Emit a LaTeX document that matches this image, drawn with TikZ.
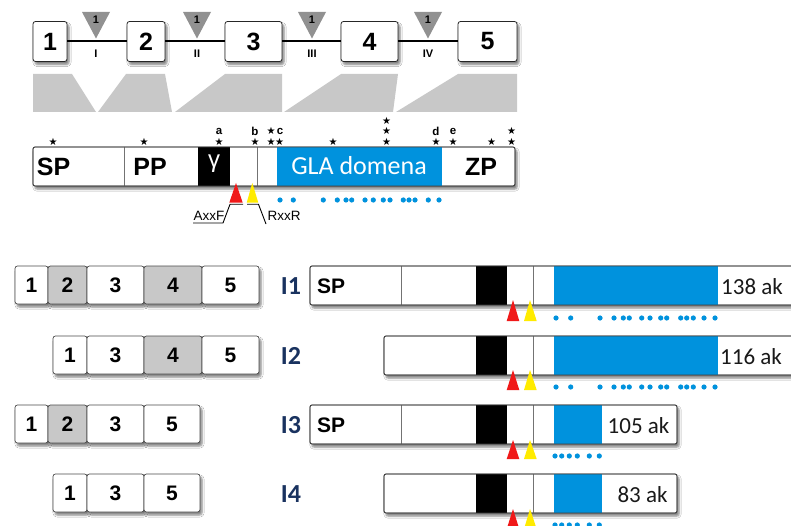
\documentclass[tikz,border=0pt]{standalone}
\usepackage{fontspec}
\setmainfont{Liberation Sans}
\newfontfamily\calfont{Carlito}
\newfontfamily\dejavu{DejaVu Sans}
\usetikzlibrary{shadows.blur}
\definecolor{glablue}{RGB}{0,146,221}
\definecolor{exgray}{RGB}{200,200,200}
\definecolor{trigray}{RGB}{145,145,145}
\definecolor{navy}{RGB}{25,50,95}
\definecolor{tred}{RGB}{240,25,25}
\definecolor{tyel}{RGB}{255,235,0}
\tikzset{
  shad/.style={blur shadow={shadow xshift=2pt, shadow yshift=-3pt, shadow blur steps=5, shadow opacity=50}},
  exbig/.style={draw=black!85, line width=0.8pt, rounded corners=2.5pt, fill=white, minimum height=40pt, inner sep=0pt,
     font=\bfseries\fontsize{25}{25}\selectfont, shad},
  exsmall/.style={draw=black!70, line width=0.7pt, rounded corners=2.5pt, fill=white, minimum height=38pt, inner sep=0pt,
     font=\bfseries\fontsize{21}{21}\selectfont, shad},
  exgr/.style={fill=exgray},
  barbox/.style={draw=black!70, line width=0.7pt, rounded corners=2pt, fill=white, shad},
  barline/.style={draw=black!75, line width=0.8pt, rounded corners=2pt},
  segline/.style={draw=black!55, line width=0.6pt},
  isolab/.style={font=\calfont\bfseries\fontsize{26}{26}\selectfont, text=navy},
  aklab/.style={font=\calfont\fontsize{23}{23}\selectfont, text=black!90},
  sptext/.style={font=\bfseries\fontsize{21}{21}\selectfont},
  bigtext/.style={font=\bfseries\fontsize{25}{25}\selectfont},
  stars/.style={font=\dejavu\fontsize{10}{10}\selectfont, inner sep=0pt},
  lett/.style={font=\bfseries\fontsize{11.5}{11.5}\selectfont, inner sep=0pt},
  roman/.style={font=\bfseries\fontsize{11}{11}\selectfont, inner sep=0pt},
  motif/.style={font=\fontsize{13.5}{13.5}\selectfont, inner sep=0pt},
}
\begin{document}
\begin{tikzpicture}[x=1pt,y=-1pt]
\clip (0,0) rectangle (791,526);
\fill[white] (0,0) rectangle (791,526);

% ---------- top gene structure ----------
\node[exbig, minimum width=34pt] (e1) at (50,41.5) {1};
\node[exbig, minimum width=38pt] (e2) at (146,41.5) {2};
\node[exbig, minimum width=57pt] (e3) at (253.5,41.5) {3};
\node[exbig, minimum width=57pt] (e4) at (369.5,41.5) {4};
\node[exbig, minimum width=59pt] (e5) at (487.5,41.5) {5};
\draw[line width=2pt] (e1) -- (e2);
\draw[line width=2pt] (e2) -- (e3);
\draw[line width=2pt] (e3) -- (e4);
\draw[line width=2pt] (e4) -- (e5);

\foreach \x/\r/\n in {96/I/1, 197/II/2, 312/III/3, 428/IV/4}{
  \fill[trigray] (\x-14,12) -- (\x+14,12) -- (\x,38.5) -- cycle;
  \node[roman] (ph\n) at (\x,20) {1};
  \node[roman] (rn\n) at (\x,53.5) {\r};
}

% trapezoids
\fill[exgray] (33,74) -- (72,74) -- (96,112) -- (33,112) -- cycle;
\fill[exgray] (98,112) -- (126,74) -- (165,74) -- (172,112) -- cycle;
\fill[exgray] (175,112) -- (225,74) -- (282,74) -- (282,112) -- cycle;
\fill[exgray] (284,112) -- (341,74) -- (398,74) -- (393,112) -- cycle;
\fill[exgray] (396,112) -- (458,74) -- (517,74) -- (517,112) -- cycle;

% ---------- top protein bar ----------
\path[barbox] (33,147) rectangle (515,186);
\fill[black] (198,147) rectangle (230,186);
\fill[glablue] (277,147) rectangle (442,186);
\draw[segline] (124,147) -- (124,186);
\draw[segline] (257,147) -- (257,186);
\draw[barline] (33,147) rectangle (515,186);
\node[bigtext] (tsp) at (53.5,167) {SP};
\node[bigtext] (tpp) at (150,167) {PP};
\node[font=\fontsize{24}{24}\selectfont, text=white] (tg) at (214,164) {γ};
\node[font=\calfont\fontsize{26}{26}\selectfont, text=white] (tgla) at (359,166) {GLA domena};
\node[bigtext] (tzp) at (481,167) {ZP};

% stars
\foreach \x/\y in {53/141.7, 144/141.7, 219/141.7, 255/141.7, 271/131, 271/141.7, 279.5/141.7,
  333/141.7, 386.7/121, 386.7/131, 386.7/141.7, 436/141.7, 453/141.7, 491.7/141.7, 511.7/131, 511.7/141.7}{
  \node[stars] at (\x,\y) {★};
}
\node[lett] (la) at (219,131) {a};
\node[lett] (lb) at (255,131) {b};
\node[lett] (lc) at (280,131) {c};
\node[lett] (ld) at (436,131) {d};
\node[lett] (le) at (453,131) {e};

% cleavage triangles + motifs
\fill[tred] (236,183) -- (229.3,202.7) -- (242.7,202.7) -- cycle;
\fill[tyel] (252.3,183) -- (246.7,202.7) -- (258.3,202.7) -- cycle;
\draw[line width=0.9pt] (243,204.3) -- (230,204.3) -- (223,223) -- (193,223);
\draw[line width=0.9pt] (247,204.3) -- (258.5,204.3) -- (266,224);
\node[motif, anchor=base west] (axxf) at (193.5,221) {AxxF};
\node[motif, anchor=base west] (rxxr) at (267.5,221) {RxxR};

\foreach \x in {280, 293.3, 323.3, 337.3, 346, 351.7, 365, 373.3, 383.3, 390, 403.3, 409, 415, 428.3, 439}{
  \fill[glablue] (\x,200) circle (2.6pt);
}

% ---------- isoform exon rows ----------
% I1
\node[exsmall, minimum width=33pt] (a1) at (31.5,285) {1};
\node[exsmall, exgr, minimum width=39pt] (a2) at (67.5,285) {2};
\node[exsmall, minimum width=57pt] (a3) at (115.5,285) {3};
\node[exsmall, exgr, minimum width=58pt] (a4) at (173,285) {4};
\node[exsmall, minimum width=57pt] (a5) at (230.5,285) {5};
% I2
\node[exsmall, minimum width=34pt] (b1) at (70,355) {1};
\node[exsmall, minimum width=57pt] (b3) at (115.5,355) {3};
\node[exsmall, exgr, minimum width=58pt] (b4) at (173,355) {4};
\node[exsmall, minimum width=57pt] (b5) at (230.5,355) {5};
% I3
\node[exsmall, minimum width=33pt] (c1) at (31.5,424) {1};
\node[exsmall, exgr, minimum width=39pt] (c2) at (67.5,424) {2};
\node[exsmall, minimum width=57pt] (c3) at (115.5,424) {3};
\node[exsmall, minimum width=56pt] (c5) at (172,424) {5};
% I4
\node[exsmall, minimum width=34pt] (d1) at (70,493) {1};
\node[exsmall, minimum width=57pt] (d3) at (115.5,493) {3};
\node[exsmall, minimum width=56pt] (d5) at (172,493) {5};

\node[isolab] (i1) at (291,286) {I1};
\node[isolab] (i2) at (291,356) {I2};
\node[isolab] (i3) at (291,425) {I3};
\node[isolab] (i4) at (291,494) {I4};

% ---------- isoform protein bars ----------
% I1
\path[barbox] (310,266) rectangle (805,305);
\fill[black] (476,266) rectangle (507,305);
\fill[glablue] (554,266) rectangle (718,305);
\draw[segline] (401,266) -- (401,305);
\draw[segline] (533,266) -- (533,305);
\draw[barline] (310,266) rectangle (805,305);
\node[sptext, anchor=west, inner sep=0pt] (p1sp) at (317,286) {SP};
\node[aklab, anchor=west, inner sep=0pt] (p1ak) at (721,287) {138 ak};
% I2
\path[barbox] (384,336) rectangle (805,375);
\fill[black] (476,336) rectangle (507,375);
\fill[glablue] (554,336) rectangle (718,375);
\draw[segline] (533,336) -- (533,375);
\draw[barline] (384,336) rectangle (805,375);
\node[aklab, anchor=west, inner sep=0pt] (p2ak) at (720,357) {116 ak};
% I3
\path[barbox] (310,405) rectangle (677,444);
\fill[black] (476,405) rectangle (507,444);
\fill[glablue] (554,405) rectangle (602,444);
\draw[segline] (401,405) -- (401,444);
\draw[segline] (533,405) -- (533,444);
\draw[barline] (310,405) rectangle (677,444);
\node[sptext, anchor=west, inner sep=0pt] (p3sp) at (317,425) {SP};
\node[aklab] (p3ak) at (638.5,426) {105 ak};
% I4
\path[barbox] (384,474) rectangle (677,513);
\fill[black] (476,474) rectangle (507,513);
\fill[glablue] (554,474) rectangle (602,513);
\draw[segline] (533,474) -- (533,513);
\draw[barline] (384,474) rectangle (677,513);
\node[aklab] (p4ak) at (642.5,495) {83 ak};

% triangles
\foreach \ya/\yb in {300/321, 370/390, 440/459, 509/529}{
  \fill[tred] (513,\ya) -- (506.7,\yb) -- (519.3,\yb) -- cycle;
  \fill[tyel] (530,\ya) -- (524,\yb) -- (536.7,\yb) -- cycle;
}
% dots
\foreach \y in {318, 387}{
  \foreach \x in {556, 570.7, 600, 614, 623.3, 629.3, 641.7, 650, 660.7, 666.7, 680.7, 686.7, 693.3, 704, 715}{
    \fill[glablue] (\x,\y) circle (2.6pt);
  }
}
\foreach \y in {456, 525}{
  \foreach \x in {555, 561.7, 569.3, 577.3, 589.3, 599.3}{
    \fill[glablue] (\x,\y) circle (2.6pt);
  }
}
\end{tikzpicture}
\end{document}
